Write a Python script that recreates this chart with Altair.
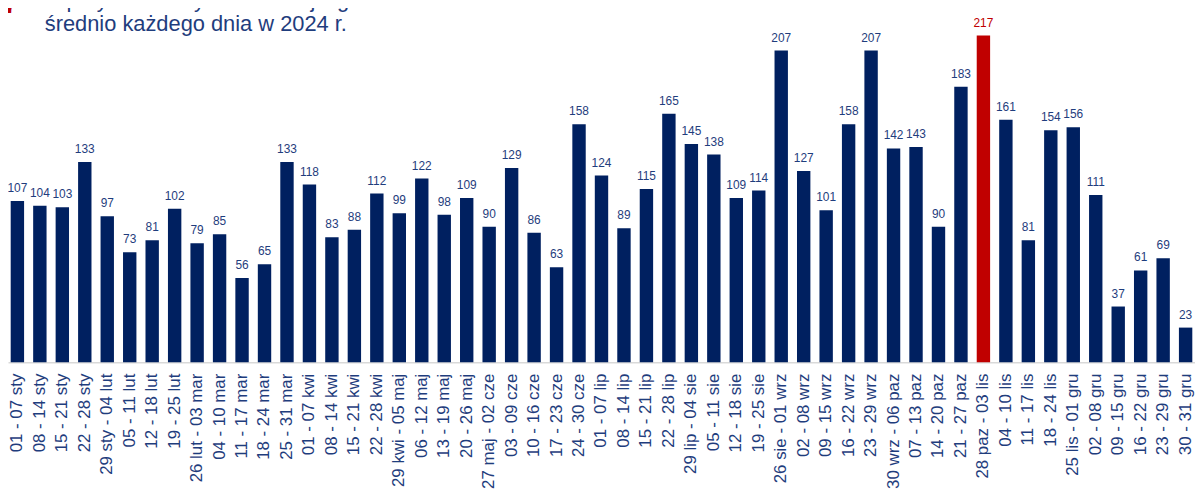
import altair as alt
import pandas as pd

weeks = [
    "01 - 07 sty", "08 - 14 sty", "15 - 21 sty", "22 - 28 sty", "29 sty - 04 lut",
    "05 - 11 lut", "12 - 18 lut", "19 - 25 lut", "26 lut - 03 mar", "04 - 10 mar",
    "11 - 17 mar", "18 - 24 mar", "25 - 31 mar", "01 - 07 kwi", "08 - 14 kwi",
    "15 - 21 kwi", "22 - 28 kwi", "29 kwi - 05 maj", "06 - 12 maj", "13 - 19 maj",
    "20 - 26 maj", "27 maj - 02 cze", "03 - 09 cze", "10 - 16 cze", "17 - 23 cze",
    "24 - 30 cze", "01 - 07 lip", "08 - 14 lip", "15 - 21 lip", "22 - 28 lip",
    "29 lip - 04 sie", "05 - 11 sie", "12 - 18 sie", "19 - 25 sie", "26 sie - 01 wrz",
    "02 - 08 wrz", "09 - 15 wrz", "16 - 22 wrz", "23 - 29 wrz", "30 wrz - 06 paz",
    "07 - 13 paz", "14 - 20 paz", "21 - 27 paz", "28 paz - 03 lis", "04 - 10 lis",
    "11 - 17 lis", "18 - 24 lis", "25 lis - 01 gru", "02 - 08 gru", "09 - 15 gru",
    "16 - 22 gru", "23 - 29 gru", "30 - 31 gru",
]
values = [
    107, 104, 103, 133, 97, 73, 81, 102, 79, 85,
    56, 65, 133, 118, 83, 88, 112, 99, 122, 98,
    109, 90, 129, 86, 63, 158, 124, 89, 115, 165,
    145, 138, 109, 114, 207, 127, 101, 158, 207, 142,
    143, 90, 183, 217, 161, 81, 154, 156, 111, 37,
    61, 69, 23,
]
highlight_week = "28 paz - 03 lis"
headline_number = "117"
headline_lines = [
    "w przybliżeniu tyle transakcji zgłaszano",
    "średnio każdego dnia w 2024 r.",
]

NAVY = "#002060"
RED = "#C00000"
TEXT = "#1F3D7D"
FONT = "Liberation Sans"

df = pd.DataFrame({"tydzien": weeks, "liczba": values})
df["wyr"] = df["tydzien"] == highlight_week

base = alt.Chart(df).encode(
    x=alt.X(
        "tydzien:N",
        sort=weeks,
        scale=alt.Scale(paddingInner=0.404, paddingOuter=0.12),
        axis=alt.Axis(
            title=None,
            labelAngle=-90,
            labelFontSize=17,
            labelFont=FONT,
            labelColor=TEXT,
            ticks=False,
            labelPadding=11,
            labelLimit=0,
            domainColor="#D9D9D9",
            domainWidth=1.5,
            grid=False,
        ),
    ),
    y=alt.Y("liczba:Q", scale=alt.Scale(domain=[0, 234], nice=False, zero=True), axis=None),
)

bars = base.mark_bar().encode(
    color=alt.condition("datum.wyr", alt.value(RED), alt.value(NAVY))
)

labels = base.mark_text(dy=-9, baseline="alphabetic", fontSize=12, font=FONT).encode(
    text="liczba:Q",
    color=alt.condition("datum.wyr", alt.value(RED), alt.value(TEXT)),
)

head_df = pd.DataFrame({"t": [headline_number]})
head_num = alt.Chart(head_df).mark_text(
    align="right", baseline="alphabetic", fontSize=40, fontWeight="bold", font=FONT, color=RED
).encode(x=alt.value(14), y=alt.value(3), text="t:N")

line1 = alt.Chart(pd.DataFrame({"t": [headline_lines[0]]})).mark_text(
    align="left", baseline="alphabetic", fontSize=22, font=FONT, color=TEXT
).encode(x=alt.value(37), y=alt.value(-3), text="t:N")

line2 = alt.Chart(pd.DataFrame({"t": [headline_lines[1]]})).mark_text(
    align="left", baseline="alphabetic", fontSize=22, font=FONT, color=TEXT
).encode(x=alt.value(37), y=alt.value(21), text="t:N")

chart = (
    alt.layer(bars, labels, head_num, line1, line2)
    .properties(
        width=1196,
        height=355,
        autosize=alt.AutoSizeParams(type="none"),
        padding={"left": 0, "top": 0, "right": 0, "bottom": 150},
        background="white",
    )
    .configure_view(stroke=None)
)

chart.save("out.html", embed_options={"renderer": "svg", "actions": False})
